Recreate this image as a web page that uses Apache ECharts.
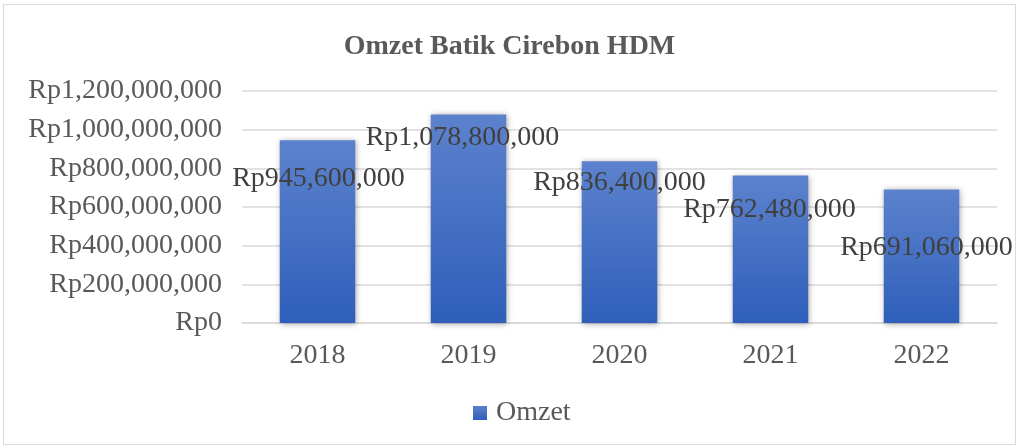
<!DOCTYPE html>
<html>
<head>
<meta charset="utf-8">
<script src="https://cdn.jsdelivr.net/npm/echarts@6/dist/echarts.min.js"></script>
<style>
html,body{margin:0;padding:0;background:#fff;}
#frame{position:absolute;left:3px;top:4px;width:1013px;height:441px;border:1px solid #d9d9d9;box-sizing:border-box;}
#chart{position:absolute;left:0;top:0;width:1019px;height:448px;}
</style>
</head>
<body>
<div id="frame"></div>
<div id="chart"></div>
<script>
var titleText = 'Omzet Batik Cirebon HDM';
var seriesName = 'Omzet';
var categories = ['2018', '2019', '2020', '2021', '2022'];
var omzetValues = [945600000, 1078800000, 836400000, 762480000, 691060000];
var yMin = 0, yMax = 1200000000, yInterval = 200000000;

function fmtRp(v) {
  return 'Rp' + String(Math.round(v)).replace(/\B(?=(\d{3})+(?!\d))/g, ',');
}

// label placement (layout only): [x shift in px, y of label centre below bar top in px]
var labelPlace = [[1, 38], [-6, 23], [0, 21], [-1, 34], [5, 58]];

var serif = '"Liberation Serif", "Times New Roman", serif';
var chart = echarts.init(document.getElementById('chart'), null, {renderer: 'canvas'});

var data = omzetValues.map(function (v, i) {
  return {
    value: v,
    label: {
      position: ['50%', labelPlace[i][1]],
      offset: [labelPlace[i][0], 0]
    }
  };
});

chart.setOption({
  animation: false,
  title: {
    text: titleText,
    left: 'center',
    top: 28,
    textStyle: {fontFamily: serif, fontSize: 28, fontWeight: 'bold', color: '#595959'}
  },
  legend: {
    data: [seriesName],
    top: 394,
    left: 468,
    itemWidth: 14,
    itemHeight: 14,
    itemGap: 4,
    icon: 'rect',
    textStyle: {fontFamily: serif, fontSize: 28, color: '#595959', padding: [0, 0, 0, 4]}
  },
  grid: {left: 242, right: 22, top: 91, bottom: 125, containLabel: false},
  xAxis: {
    type: 'category',
    data: categories,
    axisLine: {show: true, lineStyle: {color: '#d9d9d9', width: 1.5}},
    axisTick: {show: false},
    axisLabel: {fontFamily: serif, fontSize: 28, color: '#595959', margin: 19}
  },
  yAxis: {
    type: 'value',
    min: yMin,
    max: yMax,
    interval: yInterval,
    axisLine: {show: false},
    axisTick: {show: false},
    splitLine: {lineStyle: {color: '#d9d9d9', width: 1.5}},
    axisLabel: {fontFamily: serif, fontSize: 28, color: '#595959', margin: 20,
      formatter: function (v) { return fmtRp(v); }}
  },
  series: [{
    name: seriesName,
    type: 'bar',
    data: data,
    barWidth: '50%',
    itemStyle: {
      color: new echarts.graphic.LinearGradient(0, 0, 0, 1, [
        {offset: 0, color: '#5c82cd'},
        {offset: 1, color: '#2f5fba'}
      ]),
      shadowColor: 'rgba(0,0,0,0.35)',
      shadowBlur: 6,
      shadowOffsetX: 1,
      shadowOffsetY: 1
    },
    label: {
      show: true,
      align: 'center',
      verticalAlign: 'middle',
      fontFamily: serif,
      fontSize: 28,
      color: '#404040',
      formatter: function (p) { return fmtRp(p.value); }
    }
  }]
});
</script>
</body>
</html>
